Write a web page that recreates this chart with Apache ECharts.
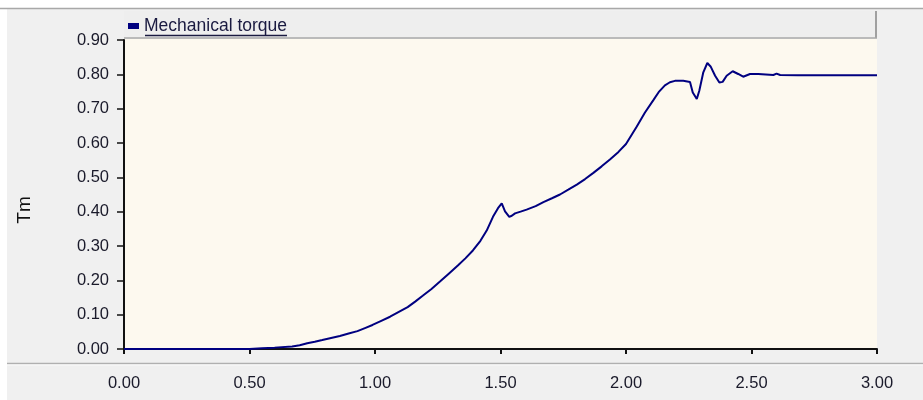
<!DOCTYPE html>
<html>
<head>
<meta charset="utf-8">
<script src="https://cdn.jsdelivr.net/npm/echarts@6/dist/echarts.min.js"></script>
<style>
html,body{margin:0;padding:0;background:#ffffff;}
#chart{width:923px;height:400px;}
</style>
</head>
<body>
<div id="chart"></div>
<script>
// Data
var seriesName = 'Mechanical torque';
var yAxisTitle = 'Tm';
var time = [0, 0.50, 0.55, 0.60, 0.67, 0.70, 0.73, 0.76, 0.79, 0.825, 0.86, 0.895, 0.93, 0.96, 0.99,
  1.025, 1.06, 1.095, 1.13, 1.16, 1.19, 1.225, 1.26, 1.295, 1.33, 1.36, 1.39, 1.42, 1.445, 1.47, 1.49,
  1.505, 1.518, 1.535, 1.545, 1.558, 1.58, 1.604, 1.64, 1.671, 1.705, 1.737, 1.77, 1.804, 1.837, 1.87,
  1.903, 1.936, 1.97, 2.00, 2.043, 2.075, 2.109, 2.13, 2.155, 2.175, 2.195, 2.228, 2.255, 2.266, 2.282,
  2.292, 2.308, 2.324, 2.337, 2.355, 2.372, 2.385, 2.401, 2.425, 2.447, 2.467, 2.494, 2.527, 2.587,
  2.600, 2.614, 2.685, 2.690, 2.695, 3.00];
var torque = [0, 0, 0.002, 0.004, 0.007, 0.011, 0.017, 0.021, 0.026, 0.032, 0.038, 0.045, 0.052, 0.061, 0.070,
  0.082, 0.094, 0.108, 0.122, 0.138, 0.155, 0.175, 0.197, 0.220, 0.243, 0.264, 0.287, 0.315, 0.345, 0.385, 0.410,
  0.424, 0.401, 0.385, 0.388, 0.395, 0.400, 0.406, 0.416, 0.428, 0.439, 0.450, 0.464, 0.479, 0.495, 0.513,
  0.532, 0.552, 0.574, 0.597, 0.648, 0.688, 0.725, 0.748, 0.768, 0.777, 0.781, 0.781, 0.778, 0.747, 0.728,
  0.752, 0.806, 0.833, 0.823, 0.796, 0.776, 0.778, 0.796, 0.809, 0.801, 0.793, 0.801, 0.801, 0.798,
  0.802, 0.798, 0.797, 0.800, 0.797, 0.797];
var xTicks = {min: 0, max: 3, interval: 0.5};
var yTicks = {min: 0, max: 0.9, interval: 0.1};

var points = time.map(function (t, i) { return [t, torque[i]]; });
var FONT = '"Liberation Sans", Arial, sans-serif';

var chart = echarts.init(document.getElementById('chart'), null, {renderer: 'canvas'});
chart.setOption({
  backgroundColor: '#ffffff',
  animation: false,
  textStyle: {fontFamily: FONT},
  graphic: [
    {type: 'rect', z: -20, shape: {x: 7, y: 9, width: 916, height: 391}, style: {fill: '#f0f0f0'}},
    {type: 'line', z: -19, shape: {x1: 0, y1: 8.5, x2: 923, y2: 8.5}, style: {stroke: '#a8a8a8', lineWidth: 1.5}},
    {type: 'line', z: -19, shape: {x1: 7, y1: 363.5, x2: 923, y2: 363.5}, style: {stroke: '#b0b0b0', lineWidth: 1.5}},
    {type: 'line', z: -19, shape: {x1: 7, y1: 365, x2: 923, y2: 365}, style: {stroke: '#fafafa', lineWidth: 1}},
    {type: 'rect', z: -18, shape: {x: 124, y: 11, width: 752, height: 27}, style: {fill: '#eeeeee'}},
    {type: 'line', z: -17, shape: {x1: 876, y1: 11, x2: 876, y2: 38}, style: {stroke: '#a0a0a0', lineWidth: 2}},
    {type: 'line', z: -17, shape: {x1: 124, y1: 38, x2: 877, y2: 38}, style: {stroke: '#a8a8a8', lineWidth: 1.5}},
    {type: 'rect', z: -16, shape: {x: 124, y: 39, width: 753, height: 310}, style: {fill: '#fdf9ef'}},
    {type: 'line', z: 5, shape: {x1: 145, y1: 35.5, x2: 287, y2: 35.5}, style: {stroke: '#1a1a40', lineWidth: 1.3}},
    {type: 'text', z: 5, x: 25, y: 210, rotation: Math.PI / 2,
      style: {text: yAxisTitle, fontSize: 19, fontFamily: FONT, fill: '#111111', align: 'center', verticalAlign: 'middle'}}
  ],
  legend: {
    left: 128, top: 17, padding: 0,
    icon: 'rect', itemWidth: 11, itemHeight: 6,
    textStyle: {fontSize: 17.5, color: '#1a1a40', fontFamily: FONT},
    data: [{name: seriesName, itemStyle: {color: '#000080'}}]
  },
  grid: {left: 124, right: 46, top: 40, bottom: 51, containLabel: false},
  xAxis: {
    type: 'value', min: xTicks.min, max: xTicks.max, interval: xTicks.interval,
    offset: 18,
    axisLine: {show: true, lineStyle: {color: '#111111', width: 2}},
    axisTick: {show: true, length: 5, inside: false, lineStyle: {color: '#111111', width: 2}},
    axisLabel: {fontSize: 16.5, color: '#1a1a2a', margin: 8, fontFamily: FONT,
      formatter: function (v) { return v.toFixed(2); }},
    splitLine: {show: false}
  },
  yAxis: {
    type: 'value', min: yTicks.min, max: yTicks.max, interval: yTicks.interval,
    axisLine: {show: true, lineStyle: {color: '#111111', width: 2}},
    axisTick: {show: true, length: 7, inside: false, lineStyle: {color: '#111111', width: 1.5}},
    axisLabel: {fontSize: 16.5, color: '#1a1a2a', margin: 15, fontFamily: FONT,
      formatter: function (v) { return v.toFixed(2); }},
    splitLine: {show: false}
  },
  series: [{
    name: seriesName, type: 'line', data: points,
    showSymbol: false, symbol: 'none',
    lineStyle: {color: '#000080', width: 2},
    itemStyle: {color: '#000080'}
  }]
});
</script>
</body>
</html>
